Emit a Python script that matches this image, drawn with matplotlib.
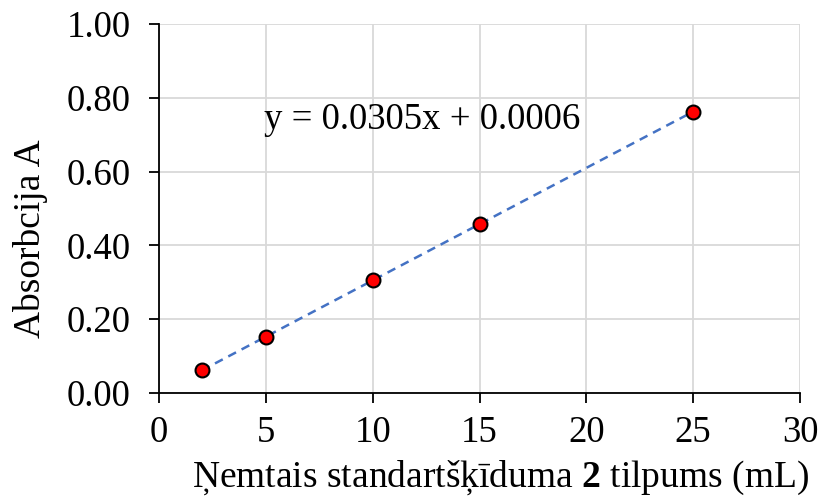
import numpy as np
import matplotlib
matplotlib.use("Agg")
import matplotlib.pyplot as plt

# data
volume_ml = [2, 5, 10, 15, 25]
absorbance = [0.061, 0.152, 0.306, 0.458, 0.762]
x_ticks = [0, 5, 10, 15, 20, 25, 30]
y_ticks = [0.0, 0.2, 0.4, 0.6, 0.8, 1.0]

plt.rcParams['font.family'] = ['Liberation Serif', 'DejaVu Serif']
plt.rcParams['mathtext.fontset'] = 'custom'
plt.rcParams['mathtext.rm'] = 'Liberation Serif'
plt.rcParams['mathtext.bf'] = 'Liberation Serif:bold'

fig = plt.figure(figsize=(8.22, 4.98), dpi=100)
ax = fig.add_axes([159 / 822, 1 - 393 / 498, 641 / 822, 369 / 498])

# linear trendline as in the spreadsheet
slope, intercept = np.polyfit(volume_ml, absorbance, 1)
xs = np.array([min(volume_ml), max(volume_ml)])
ax.plot(xs, slope * xs + intercept, linestyle=(0, (3.5, 2.5)),
        color='#4472C4', linewidth=1.8, zorder=2)

ax.plot(volume_ml, absorbance, linestyle='none', marker='o',
        markersize=10, markerfacecolor='#FF0000',
        markeredgecolor='black', markeredgewidth=1.5, zorder=3)

ax.text(12.3, 0.74, 'y = 0.0305x + 0.0006', fontsize=26.5,
        ha='center', va='center')

ax.set_xlim(0, 30)
ax.set_ylim(0, 1)
ax.set_xticks(x_ticks)
ax.set_yticks(y_ticks)
ax.set_yticklabels([f'{v:.2f}' for v in y_ticks])
ax.tick_params(labelsize=26.5, length=7.5, width=1.3, direction='out')
ax.tick_params(axis='y', pad=13)
ax.tick_params(axis='x', pad=9)

ax.grid(True, color='#d9d9d9', linewidth=1.3)
ax.set_axisbelow(True)
for side in ('top', 'right'):
    ax.spines[side].set_visible(False)
for side in ('left', 'bottom'):
    ax.spines[side].set_linewidth(1.3)

ax.set_xlabel(r'Ņemtais standartšķīduma $\mathbf{2}$ tilpums (mL)',
              fontsize=27, va='baseline')
ax.xaxis.set_label_coords(0.532, -0.255)
ax.set_ylabel('Absorbcija A', fontsize=27, va='center')
ax.yaxis.set_label_coords(-0.201, 0.417)

fig.savefig('out.png', dpi=100)
